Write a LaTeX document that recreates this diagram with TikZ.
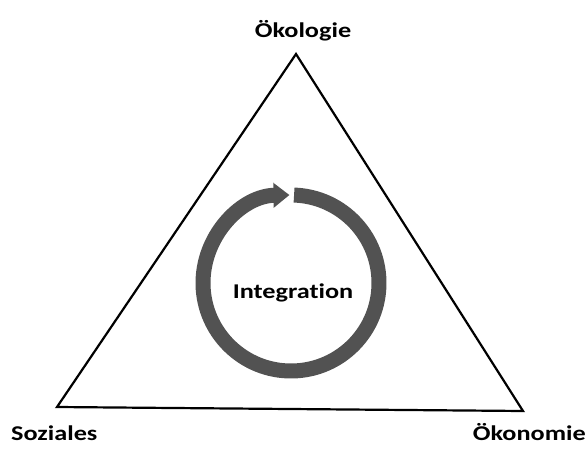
\documentclass[tikz,border=0pt]{standalone}
\usepackage{fontspec}
\newfontfamily\lblfont[FakeStretch=1.25, Ligatures=NoCommon]{Carlito}
\usetikzlibrary{arrows.meta}

\begin{document}
\begin{tikzpicture}[
    x=1pt, y=-1pt,
    lbl/.style={font=\lblfont\bfseries\fontsize{21}{24}\selectfont, inner sep=0pt},
    side/.style={line width=2.2pt, line join=miter},
    ring/.style={line width=15pt, black!68,
                 -{Triangle[width=24pt, length=16pt]}},
  ]
    \useasboundingbox (0,0) rectangle (587,450);

    % corners of the triangle
    \coordinate (top) at (296,54);
    \coordinate (left) at (57,407);
    \coordinate (right) at (523,411);
    \draw[side] (top) -- (right) -- (left) -- cycle;

    \node[lbl, anchor=base] (oeko) at (303,37) {Ökologie};
    \node[lbl, anchor=base west] (soz) at (11,440) {Soziales};
    \node[lbl, anchor=base east] (oekon) at (586,440) {Ökonomie};

    % cycle in the middle (y axis points down, so angles are mirrored)
    \coordinate (ctr) at (291,283);
    \draw[ring] ([shift={(-88:88)}]ctr) arc[start angle=-88, end angle=269, radius=88];
    \node[lbl, anchor=base] (integ) at (293,298) {Integration};
  \end{tikzpicture}
\end{document}
